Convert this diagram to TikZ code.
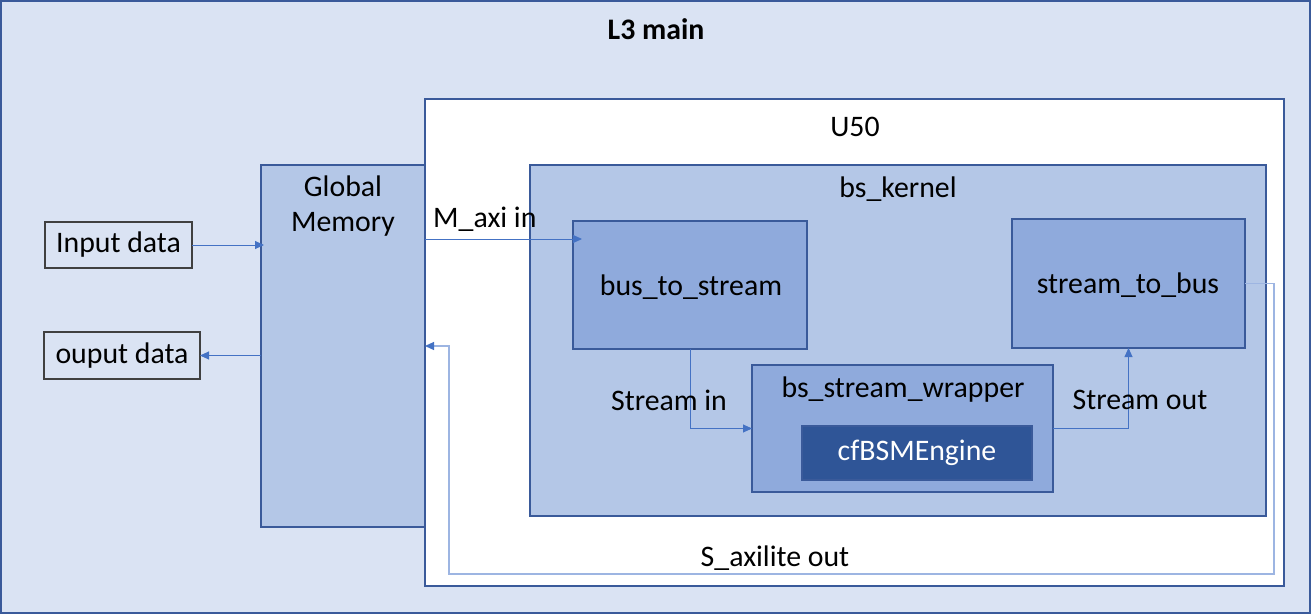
\documentclass[tikz,border=0pt]{standalone}
\usepackage{fontspec}
\setmainfont{Carlito}
\usetikzlibrary{arrows.meta}
\definecolor{lightbg}{HTML}{DAE3F3}
\definecolor{midbg}{HTML}{B4C7E7}
\definecolor{boxbg}{HTML}{8FAADC}
\definecolor{darkbox}{HTML}{2F5597}
\definecolor{edge}{HTML}{3A5A9A}
\definecolor{conn}{HTML}{4472C4}
\definecolor{connlight}{HTML}{9DB5E2}
\definecolor{grayedge}{HTML}{404040}
\tikzset{
  blk/.style={draw=edge, line width=1.5pt, anchor=north west, inner sep=0pt, outer sep=0pt},
  iobox/.style={draw=grayedge, line width=1.3pt, fill=lightbg, anchor=north west, inner sep=0pt, outer sep=0pt},
  lbl/.style={inner sep=0pt, font=\fontsize{29.8}{35}\selectfont, text=black},
  carrow/.style={draw=conn, line width=0.9pt, -{Triangle[length=9pt,width=8pt]}},
  larrow/.style={draw=connlight, line width=1.2pt, -{Triangle[length=9pt,width=8pt,color=conn]}}
}
\begin{document}
\begin{tikzpicture}[x=1pt,y=-1pt]
\useasboundingbox (0,0) rectangle (1312,615);
% outer
\node[blk, fill=lightbg, line width=2pt, minimum width=1309pt, minimum height=612pt] (l3) at (1,1) {};
\node[lbl, font=\fontsize{29.8}{35}\selectfont\bfseries] (l3t) at (656,29) {L3 main};
% U50
\node[blk, fill=white, minimum width=859pt, minimum height=487pt] (u50) at (425,99) {};
\node[lbl] (u50t) at (855,127) {U50};
% Global memory
\node[blk, fill=midbg, minimum width=164pt, minimum height=362pt] (gm) at (261,165) {};
\node[lbl, align=center] (gmt) at (343,206) {Global\\Memory};
% IO boxes
\node[iobox, minimum width=147pt, minimum height=46pt] (inp) at (45,222) {};
\node[lbl] (inpt) at (inp.center) {Input data};
\node[iobox, minimum width=156pt, minimum height=47pt] (outp) at (44,332) {};
\node[lbl] (outpt) at (outp.center) {ouput data};
% bs_kernel
\node[blk, fill=midbg, minimum width=736pt, minimum height=351pt] (bsk) at (530,165) {};
\node[lbl] (bskt) at (898,189) {bs\_kernel};
% bus_to_stream
\node[blk, fill=boxbg, minimum width=234pt, minimum height=128pt] (b2s) at (573,221) {};
\node[lbl] (b2st) at (691,287) {bus\_to\_stream};
% stream_to_bus
\node[blk, fill=boxbg, minimum width=233pt, minimum height=129pt] (s2b) at (1012,219) {};
\node[lbl] (s2bt) at (1128,285) {stream\_to\_bus};
% wrapper
\node[blk, fill=boxbg, minimum width=301pt, minimum height=127pt] (wrap) at (752,365) {};
\node[lbl] (wrapt) at (903,390) {bs\_stream\_wrapper};
\node[blk, fill=darkbox, minimum width=230pt, minimum height=54pt] (eng) at (802,426) {};
\node[lbl, text=white] (engt) at (eng.center) {cfBSMEngine};
% connectors
\draw[carrow] (inp.east) -- ([xshift=3pt]gm.west |- inp.east);
\draw[carrow] (gm.west |- outp.east) -- (outp.east);
\coordinate (maxiend) at ([yshift=-18pt,xshift=9pt]b2s.north west);
\draw[carrow] (gm.east |- maxiend) -- (maxiend);
\node[lbl, anchor=south west] (maxit) at (433,232) {M\_axi in};
\draw[carrow] (b2s.south) |- (wrap.west);
\node[lbl] (sint) at (669,400) {Stream in};
\draw[carrow] (wrap.east) -| (s2b.south);
\node[lbl] (soutt) at (1140,400) {Stream out};
\coordinate (axR) at (1274,574);
\coordinate (axL) at (449,346);
\draw[larrow] (s2b.east) -| (axR) -| (axL) -- (gm.east |- axL);
\node[lbl] (saxt) at (775,558) {S\_axilite out};
\end{tikzpicture}
\end{document}
